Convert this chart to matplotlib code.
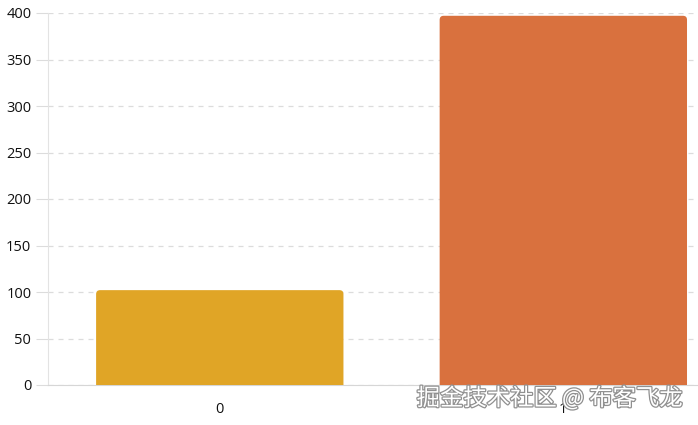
import matplotlib.pyplot as plt
import matplotlib.patheffects as pe
from matplotlib.patches import FancyBboxPatch

plt.rcParams['font.family'] = ['Open Sans', 'Noto Sans CJK SC', 'DejaVu Sans']

categories = ['0', '1']
values = [102, 397]
colors = ['#E0A526', '#D9713E']
yticks = [0, 50, 100, 150, 200, 250, 300, 350, 400]
watermark = '掘金技术社区 @ 布客飞龙'

W, H = 698, 425
fig = plt.figure(figsize=(W / 100, H / 100), dpi=100)
ax = fig.add_axes([48 / W, 40 / H, 650 / W, 372 / H])

xpos = list(range(len(categories)))
bars = ax.bar(xpos, values, width=0.72, color=colors, zorder=3)

ax.set_xlim(-0.5, 1.392)
ax.set_ylim(0, 400)

# rounded top corners: swap each bar for a rounded patch
x_per_px = (1.392 + 0.5) / 650
y_per_px = 400 / 372
r = 4 * x_per_px
for b in bars:
    b.set_visible(False)
    p = FancyBboxPatch((b.get_x(), -10), b.get_width(), b.get_height() + 10,
                       boxstyle=f'round,pad=0,rounding_size={r}',
                       mutation_aspect=y_per_px / x_per_px,
                       facecolor=b.get_facecolor(), edgecolor='none', zorder=3)
    ax.add_patch(p)

ax.set_yticks(yticks)
ax.set_xticks(xpos)
ax.set_xticklabels(categories)
ax.grid(axis='y', color='#dcdcdc', linestyle=(0, (4, 4)), linewidth=0.9, zorder=0)
ax.tick_params(axis='y', length=9, color='#dcdcdc', pad=3, labelsize=10.5, labelcolor='#111111')
ax.tick_params(axis='x', length=0, pad=12, labelsize=10.5, labelcolor='#111111')

for s in ['top', 'right']:
    ax.spines[s].set_visible(False)
ax.spines['left'].set_color('#e3e3e3')
ax.spines['bottom'].set_color('#d6d6d6')

fig.text(683 / W, 1 - 398 / H, watermark, ha='right', va='center', fontsize=16.8,
         family=['Noto Sans CJK SC', 'DejaVu Sans'], color='white',
         path_effects=[pe.withStroke(linewidth=1.8, foreground='#909090')], zorder=10)

fig.savefig('out.png', dpi=100)
